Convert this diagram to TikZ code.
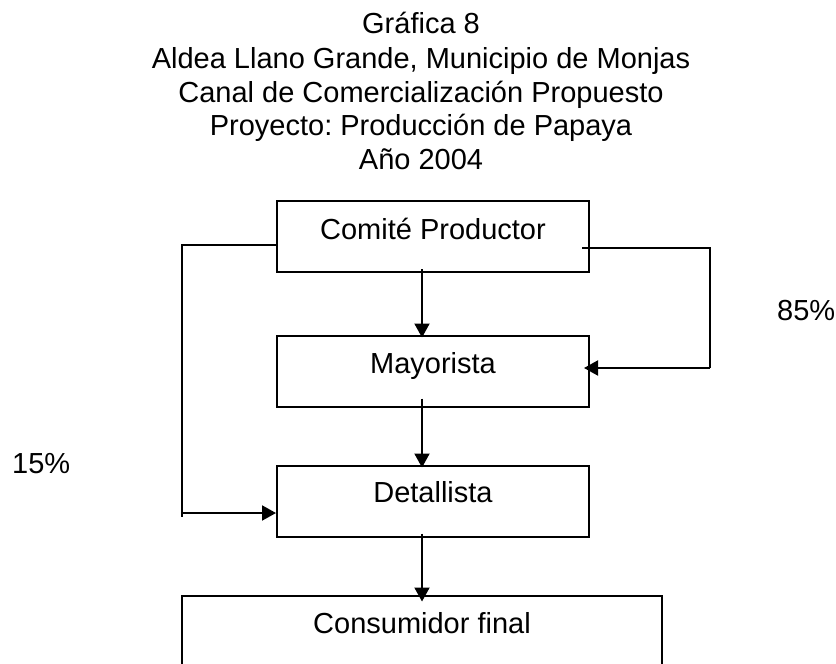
\documentclass[tikz,border=0pt]{standalone}
\usepackage{fontspec}
\setmainfont{Liberation Sans}
\usetikzlibrary{arrows.meta,calc}
\frenchspacing
\begin{document}
\begin{tikzpicture}[x=1pt,y=-1pt,
  box/.style={draw=black,line width=2pt,inner sep=0pt,minimum width=312pt,minimum height=71pt},
  lbl/.style={anchor=base,inner sep=0pt,font=\fontsize{29}{34}\selectfont},
  ttl/.style={anchor=base,inner sep=0pt,font=\fontsize{29}{34}\selectfont},
  ln/.style={line width=2pt},
  arr/.style={line width=2pt,-{Triangle[length=14pt,width=15pt]}}]
\useasboundingbox (0,0) rectangle (836,664);
\clip (0,0) rectangle (836,664);
\fill[white] (0,0) rectangle (836,664);
% title
\node[ttl] (t1) at (421,33) {Gráfica 8};
\node[ttl] (t2) at (421,68) {Aldea Llano Grande, Municipio de Monjas};
\node[ttl] (t3) at (421,102) {Canal de Comercialización Propuesto};
\node[ttl] (t4) at (421,135) {Proyecto: Producción de Papaya};
\node[ttl] (t5) at (421,169) {Año 2004};
% boxes
\node[box] (com) at (433,236.5) {};
\node[box] (may) at (433,371) {};
\node[box] (det) at (433,501) {};
\node[box,minimum width=480pt,minimum height=108pt] (con) at (422,650) {};
% box texts
\node[lbl] (comt) at (433,239) {Comité Productor};
\node[lbl] (mayt) at (433,373) {Mayorista};
\node[lbl] (dett) at (433,502) {Detallista};
\node[lbl] (cont) at (422,633) {Consumidor final};
% percentages
\node[lbl,anchor=base west] (p85) at (777,320) {85\%};
\node[lbl,anchor=base west] (p15) at (12,473) {15\%};
% helper coordinates
\coordinate (l1) at (182,245);
\coordinate (l2) at (182,517);
\coordinate (l3) at (182,513);
\coordinate (r0) at (582,248);
\coordinate (r1) at (710,248);
\coordinate (r2) at (710,368);
% center arrows
\draw[arr] ($(com.south)+(-11,-4)$) -- ($(may.north)+(-11,3)$);
\draw[arr] ($(may.south)+(-11,-9)$) -- ($(det.north)+(-11,3)$);
\draw[arr] ($(det.south)+(-11,-4)$) -- ($(con.north)+(0,6.5)$);
% left branch
\draw[ln] (com.west |- l1) -- (l1) -- (l2);
\draw[arr] (l3) -- (det.west |- l3);
% right branch
\draw[ln] (r0) -- (r1) -- (r2);
\draw[arr] (r2) -- ($(may.east |- r2)+(-6,0)$);
\end{tikzpicture}
\end{document}
